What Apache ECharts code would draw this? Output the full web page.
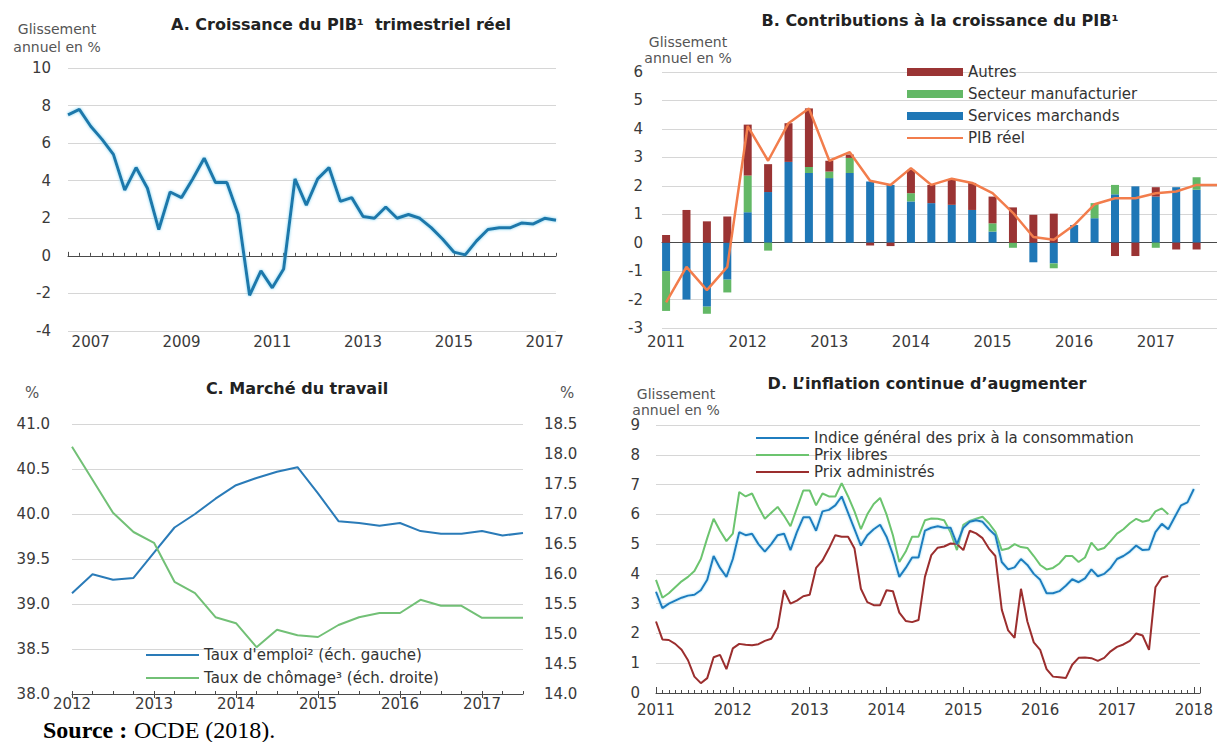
<!DOCTYPE html>
<html>
<head>
<meta charset="utf-8">
<script src="https://cdn.jsdelivr.net/npm/echarts@6/dist/echarts.min.js"></script>
<style>
  html, body { margin: 0; padding: 0; background: #fff; }
  #chart { width: 1217px; height: 742px; }
</style>
</head>
<body>
<div id="chart"></div>
<script>
// ---- A. Croissance du PIB trimestriel réel (glissement annuel, %)
const quartersA = [
  '2007T1','2007T2','2007T3','2007T4','2008T1','2008T2','2008T3','2008T4',
  '2009T1','2009T2','2009T3','2009T4','2010T1','2010T2','2010T3','2010T4',
  '2011T1','2011T2','2011T3','2011T4','2012T1','2012T2','2012T3','2012T4',
  '2013T1','2013T2','2013T3','2013T4','2014T1','2014T2','2014T3','2014T4',
  '2015T1','2015T2','2015T3','2015T4','2016T1','2016T2','2016T3','2016T4',
  '2017T1','2017T2','2017T3','2017T4'
]
const pibA = [
  7.5, 7.8, 6.9, 6.2, 5.4, 3.5, 4.7, 3.6, 1.4, 3.4, 3.1, 4.1,
  5.2, 3.9, 3.9, 2.2, -2.1, -0.8, -1.7, -0.7, 4.1, 2.7, 4.1, 4.7,
  2.9, 3.1, 2.1, 2.0, 2.6, 2.0, 2.2, 2.0, 1.5, 0.9, 0.2, 0.05,
  0.8, 1.4, 1.5, 1.5, 1.75, 1.7, 2.0, 1.9
]

// ---- B. Contributions à la croissance du PIB
const quartersB = [
  '2011T1','2011T2','2011T3','2011T4','2012T1','2012T2','2012T3','2012T4',
  '2013T1','2013T2','2013T3','2013T4','2014T1','2014T2','2014T3','2014T4',
  '2015T1','2015T2','2015T3','2015T4','2016T1','2016T2','2016T3','2016T4',
  '2017T1','2017T2','2017T3','2017T4'
]
const servicesB = [
  -1.0, -2.0, -2.25, -1.3, 1.07, 1.78, 2.84, 2.45, 2.27, 2.45, 2.15, 2.03, 1.45, 1.39,
  1.33, 1.15, 0.39, 0, -0.69, -0.73, 0.62, 0.86, 1.7, 1.98, 1.62, 1.95, 1.86
]
const manufB = [
  -1.4, 0, -0.25, -0.45, 1.29, -0.28, 0, 0.21, 0.23, 0.53, 0, 0, 0.29, 0,
  0, 0, 0.29, -0.18, 0, -0.17, 0, 0.53, 0.33, 0, -0.18, 0, 0.44
]
const autresB = [
  0.27, 1.15, 0.75, 0.92, 1.79, 0.98, 1.36, 2.06, 0.38, 0.12, -0.1, -0.12, 0.82, 0.64,
  0.88, 0.95, 0.94, 1.24, 0.98, 1.02, 0, 0, -0.47, -0.47, 0.33, -0.24, -0.24
]
const pibReelB = [
  -2.1, -0.85, -1.67, -0.85, 4.1, 2.88, 4.2, 4.72, 2.88, 3.18, 2.18, 2.03, 2.62, 2.03,
  2.25, 2.1, 1.74, 1.05, 0.2, 0.1, 0.62, 1.35, 1.56, 1.56, 1.74, 1.8, 2.03, 2.03
]
const yearsB = [2011, 2012, 2013, 2014, 2015, 2016, 2017]

// ---- C. Marché du travail
const quartersC = [
  '2012T1','2012T2','2012T3','2012T4','2013T1','2013T2','2013T3','2013T4',
  '2014T1','2014T2','2014T3','2014T4','2015T1','2015T2','2015T3','2015T4',
  '2016T1','2016T2','2016T3','2016T4','2017T1','2017T2','2017T3'
]
const emploiC = [
  39.12, 39.33, 39.27, 39.29, 39.57, 39.85, 40.0, 40.17, 40.32, 40.4, 40.47, 40.52,
  40.23, 39.92, 39.9, 39.87, 39.9, 39.81, 39.78, 39.78, 39.81, 39.76, 39.79
]
const chomageC = [
  18.12, 17.57, 17.02, 16.7, 16.52, 15.87, 15.68, 15.28, 15.18, 14.78, 15.07, 14.98,
  14.95, 15.15, 15.28, 15.35, 15.35, 15.57, 15.47, 15.47, 15.27, 15.27, 15.27
]

// ---- D. L'inflation continue d'augmenter (mensuel)
const monthsD = [
  '2011-01','2011-02','2011-03','2011-04','2011-05','2011-06','2011-07','2011-08','2011-09','2011-10','2011-11','2011-12',
  '2012-01','2012-02','2012-03','2012-04','2012-05','2012-06','2012-07','2012-08','2012-09','2012-10','2012-11','2012-12',
  '2013-01','2013-02','2013-03','2013-04','2013-05','2013-06','2013-07','2013-08','2013-09','2013-10','2013-11','2013-12',
  '2014-01','2014-02','2014-03','2014-04','2014-05','2014-06','2014-07','2014-08','2014-09','2014-10','2014-11','2014-12',
  '2015-01','2015-02','2015-03','2015-04','2015-05','2015-06','2015-07','2015-08','2015-09','2015-10','2015-11','2015-12',
  '2016-01','2016-02','2016-03','2016-04','2016-05','2016-06','2016-07','2016-08','2016-09','2016-10','2016-11','2016-12',
  '2017-01','2017-02','2017-03','2017-04','2017-05','2017-06','2017-07','2017-08','2017-09','2017-10','2017-11','2017-12',
  '2018-01'
]
const ipcD = [
  3.4, 2.85, 3.0, 3.1, 3.2, 3.27, 3.3, 3.45, 3.8, 4.6, 4.2, 3.9,
  4.5, 5.4, 5.3, 5.35, 5.0, 4.75, 5.0, 5.3, 5.35, 4.8, 5.4, 5.9,
  5.9, 5.45, 6.1, 6.15, 6.3, 6.6, 6.05, 5.5, 4.95, 5.3, 5.5, 5.65,
  5.25, 4.65, 3.9, 4.2, 4.55, 4.55, 5.45, 5.55, 5.6, 5.55, 5.55, 5.0,
  5.55, 5.75, 5.8, 5.75, 5.5, 5.3, 4.4, 4.15, 4.22, 4.5, 4.3, 4.0,
  3.8, 3.35, 3.35, 3.42, 3.6, 3.82, 3.72, 3.85, 4.15, 3.92, 4.0, 4.2,
  4.5, 4.6, 4.75, 4.95, 4.8, 4.82, 5.4, 5.68, 5.5, 5.9, 6.3, 6.4,
  6.85
]
const libresD = [
  3.8, 3.2, 3.35, 3.55, 3.75, 3.9, 4.1, 4.5, 5.2, 5.85, 5.45, 5.1,
  5.35, 6.75, 6.6, 6.7, 6.25, 5.85, 6.05, 6.25, 5.95, 5.6, 6.2, 6.8,
  6.8, 6.3, 6.7, 6.6, 6.6, 7.05, 6.6, 6.1, 5.5, 6.0, 6.35, 6.55,
  6.0, 5.3, 4.4, 4.75, 5.25, 5.25, 5.8, 5.86, 5.85, 5.8, 5.4, 4.8,
  5.65, 5.78, 5.85, 5.92, 5.7, 5.41, 4.8, 4.85, 5.0, 4.9, 4.87, 4.6,
  4.3, 4.15, 4.2, 4.35, 4.6, 4.6, 4.4, 4.55, 5.05, 4.8, 4.87, 5.1,
  5.35, 5.5, 5.7, 5.85, 5.75, 5.8, 6.1, 6.2, 6.0
]
const adminD = [
  2.4, 1.8, 1.78, 1.65, 1.45, 1.1, 0.55, 0.33, 0.5, 1.2, 1.28, 0.8,
  1.5, 1.65, 1.62, 1.6, 1.64, 1.75, 1.82, 2.2, 3.45, 3.0, 3.1, 3.25,
  3.3, 4.2, 4.45, 4.85, 5.3, 5.25, 5.25, 4.85, 3.5, 3.05, 2.95, 2.95,
  3.45, 3.42, 2.7, 2.42, 2.38, 2.45, 3.9, 4.63, 4.88, 4.92, 5.02, 5.0,
  4.8, 5.45, 5.36, 5.2, 4.85, 4.6, 2.8, 2.1, 1.85, 3.5, 2.4, 1.7,
  1.45, 0.8, 0.55, 0.53, 0.5, 0.95, 1.18, 1.19, 1.17, 1.08, 1.18, 1.4,
  1.55, 1.63, 1.75, 2.0, 1.93, 1.45, 3.55, 3.88, 3.93
]

const FONT = '"DejaVu Sans", sans-serif'
const GRID_LINE = '#d6d6d6'
const AXIS_LINE = '#4a4a4a'

// '2011T1' -> 2011.0, '2011-03' -> 2011.1667
const qx = q => Number(q.slice(0, 4)) + (Number(q.slice(5)) - 1) / 4
const mx = m => Number(m.slice(0, 4)) + (Number(m.slice(5)) - 1) / 12
const pairs = (xs, ys) => ys.map((v, i) => [xs[i], v])
// value first so that the stack is done on y (encode x: 1, y: 0)
const pairsYX = (xs, ys) => ys.map((v, i) => [v, xs[i]])

const labelStyle = { fontFamily: FONT, fontSize: 15, color: '#3a3a3a' }
const legendText = { fontFamily: FONT, fontSize: 15, color: '#333', lineHeight: 16 }

const text = (x, y, str, font, fill, align) => ({
  type: 'text', x, y, silent: true,
  style: {
    text: str, font, fill,
    textAlign: align || 'center', textVerticalAlign: 'middle',
    align: align || 'center', verticalAlign: 'middle'
  }
})

const chart = echarts.init(document.getElementById('chart'), null, { renderer: 'svg' })

const option = {
  animation: false,
  backgroundColor: '#fff',
  grid: [
    { left: 68, top: 68, width: 488, height: 263 },
    { left: 662, top: 72, width: 555, height: 256 },
    { left: 72, top: 424, width: 451, height: 270 },
    { left: 656, top: 425, width: 544, height: 268 }
  ],
  xAxis: [
    // A : ligne du zéro, ticks trimestriels, années au milieu
    {
      type: 'category', gridIndex: 0, data: quartersA, boundaryGap: false,
      axisLine: { onZero: true, lineStyle: { color: AXIS_LINE, width: 1 } },
      axisTick: { interval: 0, inside: true, length: 3, lineStyle: { color: AXIS_LINE } },
      axisLabel: {
        ...labelStyle, margin: 3,
        interval: (i) => i % 8 === 2,
        formatter: (v) => v.slice(0, 4)
      },
      splitLine: { show: false }
    },
    {
      type: 'category', gridIndex: 0, data: quartersA, boundaryGap: false,
      axisLine: { onZero: true, onZeroAxisIndex: 0, lineStyle: { opacity: 0 } },
      axisTick: { interval: (i) => i % 8 === 0, length: 4, lineStyle: { color: AXIS_LINE } },
      axisLabel: { show: false },
      splitLine: { show: false }
    },
    // B
    {
      type: 'value', gridIndex: 1, min: 2010.95, max: 2017.75,
      axisLine: { onZero: true, lineStyle: { color: AXIS_LINE, width: 1 } },
      axisTick: { show: false },
      axisLabel: { ...labelStyle, margin: 6, customValues: yearsB, formatter: (v) => String(Math.round(v)) },
      splitLine: { show: false }
    },
    // C
    {
      type: 'category', gridIndex: 2, data: quartersC, boundaryGap: false, position: 'bottom',
      axisLine: { lineStyle: { color: AXIS_LINE, width: 1 } },
      axisTick: { interval: 0, inside: true, length: 3, lineStyle: { color: AXIS_LINE } },
      axisLabel: {
        ...labelStyle, margin: 2,
        interval: (i) => i % 4 === 0,
        formatter: (v) => v.slice(0, 4)
      },
      splitLine: { show: false }
    },
    {
      type: 'category', gridIndex: 2, data: quartersC, boundaryGap: false, position: 'bottom',
      axisLine: { lineStyle: { opacity: 0 } },
      axisTick: { interval: (i) => i % 4 === 0, length: 4, lineStyle: { color: AXIS_LINE } },
      axisLabel: { show: false },
      splitLine: { show: false }
    },
    // D
    {
      type: 'value', gridIndex: 3, min: 2011, max: 2018.08, interval: 1,
      axisLine: { lineStyle: { color: AXIS_LINE, width: 1 } },
      axisTick: { inside: true, length: 6, lineStyle: { color: AXIS_LINE } },
      minorTick: { show: true, splitNumber: 12, length: 3, lineStyle: { color: AXIS_LINE } },
      axisLabel: { ...labelStyle, margin: 9, formatter: (v) => (Number.isInteger(v) ? String(v) : '') },
      splitLine: { show: false },
      minorSplitLine: { show: false }
    }
  ],
  yAxis: [
    {
      type: 'value', gridIndex: 0, min: -4, max: 10, interval: 2,
      axisLine: { show: false }, axisTick: { show: false },
      axisLabel: { ...labelStyle, margin: 17 },
      splitLine: { lineStyle: { color: GRID_LINE } }
    },
    {
      type: 'value', gridIndex: 1, min: -3, max: 6, interval: 1,
      axisLine: { show: false }, axisTick: { show: false },
      axisLabel: { ...labelStyle, margin: 19 },
      splitLine: { lineStyle: { color: GRID_LINE } }
    },
    {
      type: 'value', gridIndex: 2, min: 38, max: 41, interval: 0.5,
      axisLine: { show: false }, axisTick: { show: false },
      axisLabel: { ...labelStyle, margin: 22, formatter: (v) => v.toFixed(1) },
      splitLine: { lineStyle: { color: GRID_LINE } }
    },
    {
      type: 'value', gridIndex: 2, position: 'right', min: 14, max: 18.5, interval: 0.5,
      axisLine: { show: false }, axisTick: { show: false },
      axisLabel: { ...labelStyle, margin: 21, formatter: (v) => v.toFixed(1) },
      splitLine: { show: false }
    },
    {
      type: 'value', gridIndex: 3, min: 0, max: 9, interval: 1,
      axisLine: { show: false }, axisTick: { show: false },
      axisLabel: { ...labelStyle, margin: 16 },
      splitLine: { lineStyle: { color: GRID_LINE } }
    }
  ],
  legend: [
    {
      orient: 'vertical', left: 906, top: 64, padding: 0, itemGap: 6,
      itemWidth: 56, itemHeight: 8, textStyle: legendText, selectedMode: false,
      data: [
        { name: 'Autres', icon: 'rect' },
        { name: 'Secteur manufacturier', icon: 'rect' },
        { name: 'Services marchands', icon: 'rect' },
        { name: 'PIB réel', itemStyle: { opacity: 0 } }
      ]
    },
    {
      orient: 'vertical', left: 145, top: 647, padding: 0, itemGap: 7,
      itemWidth: 53, itemHeight: 8, textStyle: legendText, selectedMode: false,
      itemStyle: { opacity: 0 },
      data: ['Taux d\'emploi² (éch. gauche)', 'Taux de chômage³ (éch. droite)']
    },
    {
      orient: 'vertical', left: 755, top: 430, padding: 0, itemGap: 1,
      itemWidth: 53, itemHeight: 8, textStyle: legendText, selectedMode: false,
      itemStyle: { opacity: 0 },
      data: ['Indice général des prix à la consommation', 'Prix libres', 'Prix administrés']
    }
  ],
  series: [
    // A
    {
      name: 'PIB trimestriel', type: 'line', xAxisIndex: 0, yAxisIndex: 0,
      data: pibA, symbol: 'none',
      lineStyle: { color: '#1c78ab', width: 3, shadowColor: 'rgba(110,205,240,0.9)', shadowBlur: 3 }
    },
    // B
    {
      name: 'Services marchands', type: 'bar', stack: 'contrib', xAxisIndex: 2, yAxisIndex: 1,
      data: pairsYX(quartersB.map(qx), servicesB), encode: { x: 1, y: 0 }, barWidth: 8,
      itemStyle: { color: '#1f77b6' }
    },
    {
      name: 'Secteur manufacturier', type: 'bar', stack: 'contrib', xAxisIndex: 2, yAxisIndex: 1,
      data: pairsYX(quartersB.map(qx), manufB), encode: { x: 1, y: 0 }, barWidth: 8,
      itemStyle: { color: '#63b866' }
    },
    {
      name: 'Autres', type: 'bar', stack: 'contrib', xAxisIndex: 2, yAxisIndex: 1,
      data: pairsYX(quartersB.map(qx), autresB), encode: { x: 1, y: 0 }, barWidth: 8,
      itemStyle: { color: '#9a3434' }
    },
    {
      name: 'PIB réel', type: 'line', xAxisIndex: 2, yAxisIndex: 1, z: 5,
      data: pairs(quartersB.map(qx), pibReelB), symbol: 'none',
      lineStyle: { color: '#f27d4c', width: 2.5 },
      itemStyle: { color: '#f27d4c' }
    },
    // C
    {
      name: 'Taux d\'emploi² (éch. gauche)', type: 'line', xAxisIndex: 3, yAxisIndex: 2,
      data: emploiC, symbol: 'none',
      lineStyle: { color: '#2a7bb8', width: 2 }, itemStyle: { color: '#2a7bb8' }
    },
    {
      name: 'Taux de chômage³ (éch. droite)', type: 'line', xAxisIndex: 3, yAxisIndex: 3,
      data: chomageC, symbol: 'none',
      lineStyle: { color: '#72c076', width: 2 }, itemStyle: { color: '#72c076' }
    },
    // D
    {
      name: 'Prix libres', type: 'line', xAxisIndex: 5, yAxisIndex: 4,
      data: pairs(monthsD.map(mx), libresD), symbol: 'none',
      lineStyle: { color: '#6cc46f', width: 2 }, itemStyle: { color: '#6cc46f' }
    },
    {
      name: 'Prix administrés', type: 'line', xAxisIndex: 5, yAxisIndex: 4,
      data: pairs(monthsD.map(mx), adminD), symbol: 'none',
      lineStyle: { color: '#9b2e2e', width: 2 }, itemStyle: { color: '#9b2e2e' }
    },
    {
      name: 'Indice général des prix à la consommation', type: 'line', xAxisIndex: 5, yAxisIndex: 4, z: 4,
      data: pairs(monthsD.map(mx), ipcD), symbol: 'none',
      lineStyle: { color: '#1f7dbf', width: 2, shadowColor: 'rgba(120,210,240,0.8)', shadowBlur: 2 },
      itemStyle: { color: '#1f7dbf' }
    }
  ],
  graphic: [
    // titres
    text(341, 24, 'A. Croissance du PIB¹  trimestriel réel', 'bold 16px ' + FONT, '#222'),
    text(940, 20, 'B. Contributions à la croissance du PIB¹', 'bold 16px ' + FONT, '#222'),
    text(297, 388, 'C. Marché du travail', 'bold 16px ' + FONT, '#222'),
    text(927, 383, 'D. L’inflation continue d’augmenter', 'bold 16px ' + FONT, '#222'),
    // unités
    text(57, 29, 'Glissement', '14px ' + FONT, '#555'),
    text(57, 47, 'annuel en %', '14px ' + FONT, '#555'),
    text(688, 42, 'Glissement', '14px ' + FONT, '#555'),
    text(688, 58, 'annuel en %', '14px ' + FONT, '#555'),
    text(676, 394, 'Glissement', '14px ' + FONT, '#555'),
    text(676, 410, 'annuel en %', '14px ' + FONT, '#555'),
    text(32, 393, '%', '15px ' + FONT, '#555'),
    text(567, 393, '%', '15px ' + FONT, '#555'),
    // source
    text(43, 730, 'Source :', 'bold 24px "Liberation Serif", serif', '#000', 'left'),
    text(134, 730, 'OCDE (2018).', '24px "Liberation Serif", serif', '#000', 'left')
  ]
}

chart.setOption(option)
</script>
</body>
</html>
